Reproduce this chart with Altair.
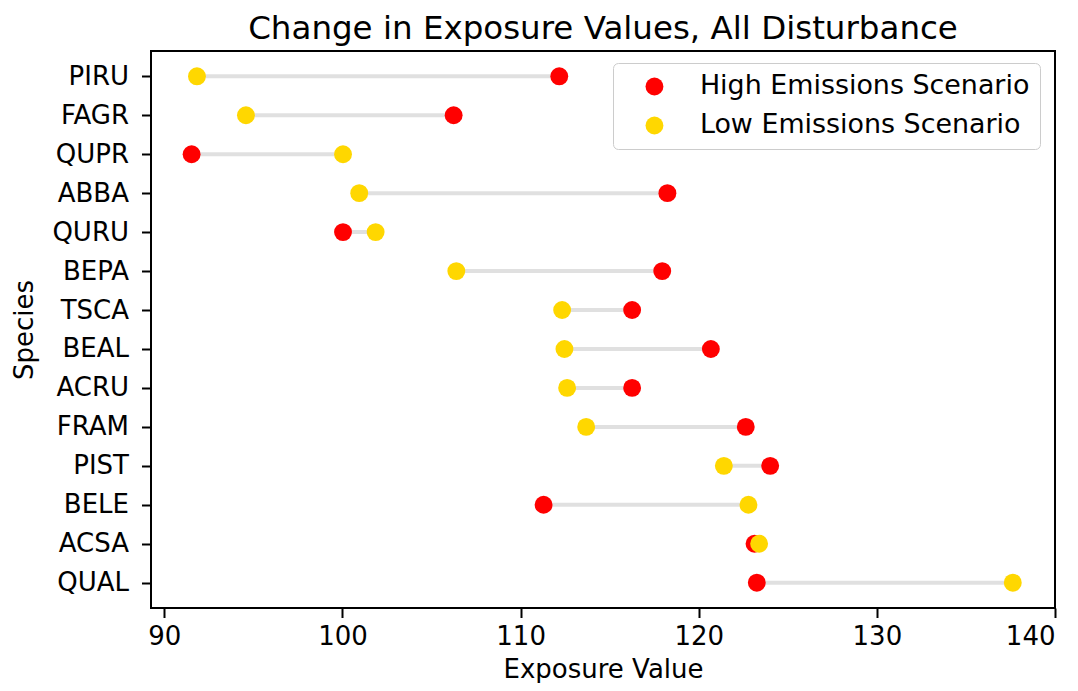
import altair as alt
import pandas as pd

species = ["PIRU", "FAGR", "QUPR", "ABBA", "QURU", "BEPA", "TSCA",
           "BEAL", "ACRU", "FRAM", "PIST", "BELE", "ACSA", "QUAL"]
high_values = [112.17, 106.24, 91.53, 118.24, 100.03, 117.95, 116.26,
               120.68, 116.26, 122.64, 124.01, 111.29, 123.13, 123.26]
low_values = [91.83, 94.58, 100.03, 100.94, 101.86, 106.39, 112.33,
              112.46, 112.61, 113.68, 121.41, 122.79, 123.39, 137.63]
scenarios = ["High Emissions Scenario", "Low Emissions Scenario"]
colors = ["#ff0000", "#ffd700"]
x_ticks = [90, 100, 110, 120, 130, 140]

wide = pd.DataFrame({"Species": species, "High": high_values, "Low": low_values})
long = pd.concat([
    pd.DataFrame({"Species": species, "Scenario": scenarios[0], "Value": high_values}),
    pd.DataFrame({"Species": species, "Scenario": scenarios[1], "Value": low_values}),
], ignore_index=True)

FONT = "DejaVu Sans"
x_scale = alt.Scale(domain=[89.25, 140.0], nice=False, zero=False)
y_scale = alt.Scale(type="point", padding=0.65, domain=species)

x_axis = alt.Axis(values=x_ticks, title="Exposure Value", grid=False, domain=False,
                  tickSize=9.5, tickWidth=2, tickColor="#000000",
                  labelPadding=6, labelFontSize=26, labelColor="#000000",
                  titleFontSize=26, titleFontWeight="normal", titleColor="#000000",
                  titlePadding=7, labelFont=FONT, titleFont=FONT)
y_axis = alt.Axis(title="Species", grid=False, domain=False,
                  tickSize=9.5, tickWidth=2, tickColor="#000000",
                  labelPadding=13, labelFontSize=26, labelColor="#000000",
                  titleFontSize=26, titleFontWeight="normal", titleColor="#000000",
                  titlePadding=14, labelFont=FONT, titleFont=FONT)

rules = alt.Chart(wide).mark_rule(color="#e0e0e0", strokeWidth=4).encode(
    y=alt.Y("Species:N", scale=y_scale, axis=y_axis, sort=species),
    x=alt.X("Low:Q", scale=x_scale, axis=x_axis),
    x2="High:Q",
)

points = alt.Chart(long).mark_circle(size=320, opacity=1).encode(
    y=alt.Y("Species:N", scale=y_scale, sort=species),
    x=alt.X("Value:Q", scale=x_scale),
    color=alt.Color("Scenario:N",
                    scale=alt.Scale(domain=scenarios, range=colors),
                    legend=alt.Legend(title=None, orient="none", legendX=462, legendY=12,
                                      labelFontSize=26.9, labelFont=FONT, labelColor="#000000",
                                      labelLimit=0,
                                      symbolType="circle", symbolSize=320,
                                      symbolStrokeWidth=0, symbolOpacity=1,
                                      symbolOffset=18, labelOffset=32,
                                      padding=10, rowPadding=11,
                                      strokeColor="#cccccc", fillColor="#ffffff",
                                      cornerRadius=5)),
)

chart = alt.layer(rules, points).properties(
    width=904, height=557,
    title=alt.Title("Change in Exposure Values, All Disturbance", fontSize=32.5,
                    font=FONT, fontWeight="normal", color="#000000",
                    baseline="alphabetic", offset=14, dy=34),
    autosize=alt.AutoSizeParams(type="none"),
    padding={"left": 143, "top": 43, "right": 15, "bottom": 75},
).configure_view(stroke="#000000", strokeWidth=2)

chart.save("out.html", embed_options={"renderer": "svg", "actions": False})
